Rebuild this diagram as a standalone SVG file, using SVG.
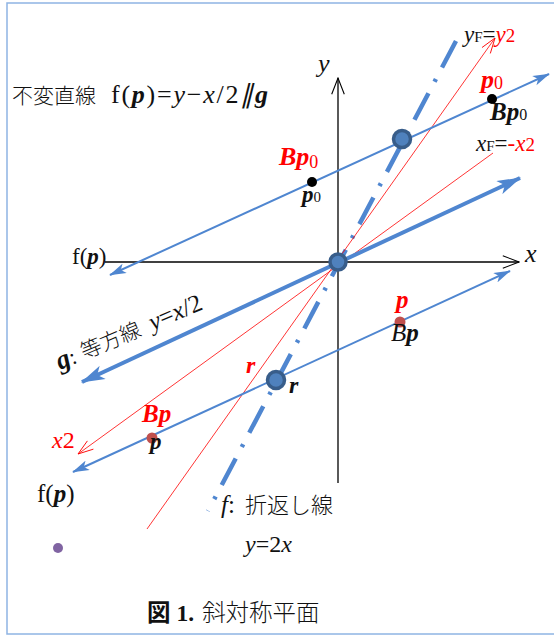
<svg xmlns="http://www.w3.org/2000/svg" width="554" height="635" viewBox="0 0 554 635">
<style>
.s{font-family:"Liberation Serif","Noto Serif",serif;}
.j{font-family:"Noto Sans CJK JP","Noto Sans",sans-serif;font-weight:300;}
.jb{font-family:"Noto Sans CJK JP","Noto Sans",sans-serif;font-weight:bold;}
.i{font-style:italic;}
.b{font-weight:bold;}
.bi{font-style:italic;font-weight:bold;}
.red{fill:#ff0000;}
.blk{fill:#111;}
.bl{stroke:#4f86d0;fill:none;}
.rd{stroke:#ff0000;stroke-width:0.8;fill:none;}
.node{fill:#4f81bd;stroke:#385d8a;stroke-width:3.5;}
</style>
<defs>
<marker id="ah" viewBox="0 0 20 12" refX="19" refY="6" markerWidth="17" markerHeight="11" markerUnits="userSpaceOnUse" orient="auto-start-reverse">
<path d="M0,0 L20,6 L0,12 L5,6 z" fill="#4f86d0"/>
</marker>
<marker id="ahb" viewBox="0 0 20 12" refX="19" refY="6" markerWidth="24" markerHeight="15" markerUnits="userSpaceOnUse" orient="auto-start-reverse">
<path d="M0,0 L20,6 L0,12 L5,6 z" fill="#4f86d0"/>
</marker>
<marker id="ax" viewBox="0 0 20 16" refX="19" refY="8" markerWidth="18" markerHeight="16" markerUnits="userSpaceOnUse" orient="auto">
<path d="M1,1 L19,8 L1,15" fill="none" stroke="#000" stroke-width="1.2"/>
</marker>
<marker id="ar" viewBox="0 0 20 14" refX="19" refY="7" markerWidth="17" markerHeight="12" markerUnits="userSpaceOnUse" orient="auto">
<path d="M1,1 L19,7 L1,13" fill="none" stroke="#ff0000" stroke-width="1"/>
</marker>
</defs>
<rect x="7" y="3" width="560" height="631" fill="#fff" stroke="#8eb4e3" stroke-width="1.5"/>

<g id="connectors">
<line id="x-axis" x1="105" y1="262" x2="519" y2="262" stroke="#000" stroke-width="1.3" marker-end="url(#ax)"/>
<line id="y-axis" x1="338" y1="483" x2="338" y2="78" stroke="#000" stroke-width="1.3" marker-end="url(#ax)"/>
<line id="fold-f" x1="456" y1="41" x2="208" y2="511" class="bl" stroke-width="4.5" stroke-dasharray="30 13 3 13"/>
<line id="red-y" x1="147" y1="529" x2="495" y2="38" class="rd" marker-end="url(#ar)"/>
<line id="red-x" x1="493" y1="153" x2="78" y2="454" class="rd" marker-end="url(#ar)"/>
<line id="g-line" x1="82" y1="382" x2="520" y2="178" class="bl" stroke-width="4" marker-start="url(#ahb)" marker-end="url(#ahb)"/>
<line id="upper-line" x1="110" y1="275" x2="549" y2="74" class="bl" stroke-width="2" marker-start="url(#ah)" marker-end="url(#ah)"/>
<line id="lower-line" x1="73" y1="472" x2="510" y2="271" class="bl" stroke-width="2" marker-start="url(#ah)" marker-end="url(#ah)"/>
</g>

<g id="origin"><circle cx="338" cy="262" r="8" class="node"/></g>
<g id="node-upper"><circle cx="402" cy="139" r="8.5" class="node"/></g>
<g id="node-r"><circle cx="276" cy="380" r="8.5" class="node"/></g>
<g id="pt-p0"><circle cx="312" cy="182" r="5" fill="#000"/></g>
<g id="pt-Bp0"><circle cx="492" cy="99" r="5" fill="#000"/></g>
<g id="pt-p"><circle cx="400" cy="322" r="5.5" fill="#c0504d"/></g>
<g id="pt-Bp"><circle cx="152" cy="438" r="5.5" fill="#c0504d"/></g>
<g id="pt-fp"><circle cx="58" cy="548" r="5" fill="#8064a2"/></g>

<g id="labels" class="s">
<text x="12" y="103" font-size="21" class="blk"><tspan class="j">不変直線</tspan></text>
<text x="111" y="103" font-size="26" class="blk" textLength="157" lengthAdjust="spacing">f(<tspan class="bi">p</tspan>)=<tspan class="i">y</tspan>−<tspan class="i">x</tspan>/2<tspan class="i">∥</tspan><tspan class="bi">g</tspan></text>
<text x="318" y="72" font-size="26" class="i blk">y</text>
<text x="525" y="262" font-size="26" class="i blk">x</text>
<text x="464" y="42" font-size="23" class="blk"><tspan class="i">y</tspan><tspan font-size="15">F</tspan><tspan>=</tspan><tspan class="i red">y</tspan><tspan class="red" font-size="19">2</tspan></text>
<text x="481" y="88" font-size="26" class="red"><tspan class="bi">p</tspan><tspan font-size="18" dy="1">0</tspan></text>
<text x="490" y="120" font-size="25" class="blk"><tspan class="bi">Bp</tspan><tspan font-size="16">0</tspan></text>
<text x="476" y="151" font-size="23" class="blk"><tspan class="i">x</tspan><tspan font-size="15">F</tspan><tspan>=</tspan><tspan class="red">-</tspan><tspan class="i red">x</tspan><tspan class="red" font-size="19">2</tspan></text>
<text x="279" y="165" font-size="26" class="red"><tspan class="bi">Bp</tspan><tspan font-size="18" dy="3">0</tspan></text>
<text x="302" y="202" font-size="23" class="blk"><tspan class="bi">p</tspan><tspan font-size="15">0</tspan></text>
<text x="72" y="264" font-size="23" class="blk">f(<tspan class="bi">p</tspan>)</text>
<text transform="translate(60,370) rotate(-23)" font-size="27" class="blk"><tspan class="bi">g</tspan><tspan font-size="22">:</tspan><tspan class="j" font-size="21" dx="7">等方線</tspan><tspan class="i" font-size="25" dx="11">y</tspan><tspan font-size="25">=</tspan><tspan class="i" font-size="25">x</tspan><tspan font-size="25">/2</tspan></text>
<text x="396" y="308" font-size="25" class="bi red">p</text>
<text x="391" y="341" font-size="25" class="i blk">B<tspan class="bi">p</tspan></text>
<text x="246" y="373" font-size="24" class="bi red">r</text>
<text x="289" y="393" font-size="24" class="bi blk">r</text>
<text x="142" y="422" font-size="25" class="bi red">Bp</text>
<text x="150" y="449" font-size="23" class="bi blk">p</text>
<text x="52" y="448" font-size="24" class="red"><tspan class="i">x</tspan>2</text>
<text x="37" y="502" font-size="25" class="blk">f(<tspan class="bi">p</tspan>)</text>
<text x="221" y="513" font-size="25" class="blk"><tspan class="i">f</tspan>:<tspan class="j" font-size="22" dx="10">折返し線</tspan></text>
<text x="245" y="552" font-size="24" class="blk"><tspan class="i">y</tspan>=2<tspan class="i">x</tspan></text>
<text x="147" y="621" font-size="23.5" class="blk"><tspan class="jb">図</tspan><tspan class="b" dx="6">1.</tspan><tspan class="j" dx="8">斜対称平面</tspan></text>
</g>
</svg>
